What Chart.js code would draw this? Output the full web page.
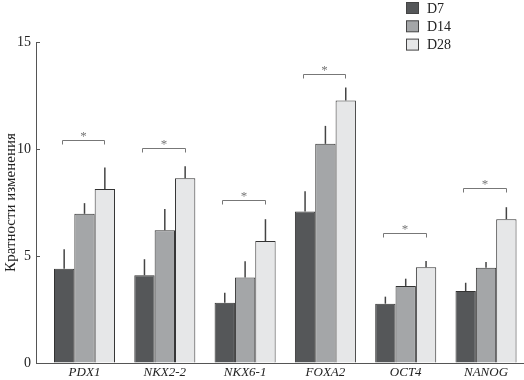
<!DOCTYPE html>
<html>
<head>
<meta charset="utf-8">
<script src="https://cdn.jsdelivr.net/npm/chart.js@4"></script>
<style>
  html, body { margin: 0; padding: 0; background: #fff; }
  #wrap { width: 524px; height: 380px; }
</style>
</head>
<body>
<div id="wrap"><canvas id="fold"></canvas></div>
<script>
const genes = ["PDX1", "NKX2-2", "NKX6-1", "FOXA2", "OCT4", "NANOG"];
const seriesNames = ["D7", "D14", "D28"];
const d7 = [4.41, 4.1, 2.81, 7.08, 2.77, 3.36];
const d14 = [6.97, 6.2, 4.0, 10.24, 3.6, 4.45];
const d28 = [8.13, 8.63, 5.7, 12.27, 4.47, 6.72];
const err7 = [0.9, 0.75, 0.47, 0.94, 0.33, 0.39];
const err14 = [0.5, 1.0, 0.75, 0.84, 0.34, 0.27];
const err28 = [1.0, 0.56, 1.02, 0.6, 0.3, 0.56];
const bracketLevel = [10.44, 10.05, 7.63, 13.49, 6.08, 8.16];
const yTicks = [0, 5, 10, 15];

const serif = "'Liberation Serif', 'DejaVu Serif', serif";
const fills = ["#555759", "#a4a6a8", "#e6e7e8"];
const errs = [err7, err14, err28];

// error bars, brackets with stars, inward y ticks, legend
const extras = {
  id: "extras",
  afterDatasetsDraw(chart) {
    const c = chart.ctx;
    const ys = chart.scales.y;
    const area = chart.chartArea;
    c.save();

    // error bars (up only, no caps)
    c.strokeStyle = "#444";
    c.lineWidth = 1.5;
    chart.data.datasets.forEach((ds, di) => {
      chart.getDatasetMeta(di).data.forEach((bar, i) => {
        const top = ys.getPixelForValue(ds.data[i].y + errs[di][i]);
        c.beginPath();
        c.moveTo(bar.x, bar.y);
        c.lineTo(bar.x, top);
        c.stroke();
      });
    });

    // significance brackets
    const first = chart.getDatasetMeta(0).data;
    const last = chart.getDatasetMeta(2).data;
    c.strokeStyle = "#777";
    c.fillStyle = "#777";
    c.lineWidth = 1;
    c.font = "13px " + serif;
    c.textAlign = "center";
    c.textBaseline = "alphabetic";
    bracketLevel.forEach((lv, i) => {
      const x1 = Math.round(first[i].x - 2.5) + 0.5;
      const x2 = Math.round(last[i].x - 0.5) + 0.5;
      const y = Math.round(ys.getPixelForValue(lv)) + 0.5;
      c.beginPath();
      c.moveTo(x1, y + 4);
      c.lineTo(x1, y);
      c.lineTo(x2, y);
      c.lineTo(x2, y + 4);
      c.stroke();
      c.fillText("*", (x1 + x2) / 2, y - 1);
    });

    // inward tick marks on the y axis
    c.strokeStyle = "#555";
    yTicks.forEach(v => {
      const y = Math.round(ys.getPixelForValue(v)) + 0.5;
      c.beginPath();
      c.moveTo(area.left, y);
      c.lineTo(area.left + 4, y);
      c.stroke();
    });

    // legend, top right, stacked
    c.font = "14px " + serif;
    c.textAlign = "left";
    c.textBaseline = "middle";
    seriesNames.forEach((name, i) => {
      const cy = 8 + i * 18.3;
      c.fillStyle = fills[i];
      c.fillRect(406.5, cy - 5.5, 12, 11);
      c.strokeStyle = "#444";
      c.strokeRect(406.5, cy - 5.5, 12, 11);
      c.fillStyle = "#222";
      c.fillText(name, 427, cy + 1);
    });
    c.restore();
  }
};

const ctx = document.getElementById("fold");
new Chart(ctx, {
  type: "bar",
  data: {
    datasets: [
      { label: seriesNames[0], data: d7.map((v, i) => ({ x: i, y: v })), backgroundColor: fills[0] },
      { label: seriesNames[1], data: d14.map((v, i) => ({ x: i, y: v })), backgroundColor: fills[1] },
      { label: seriesNames[2], data: d28.map((v, i) => ({ x: i, y: v })), backgroundColor: fills[2] },
    ],
  },
  options: {
    responsive: true,
    maintainAspectRatio: false,
    animation: false,
    layout: { padding: { top: 42, right: 0, bottom: 0, left: 0 } },
    datasets: {
      bar: {
        borderColor: "#333",
        borderWidth: 1,
        categoryPercentage: 0.76,
        barPercentage: 1.0,
      },
    },
    plugins: {
      legend: { display: false },
      tooltip: { enabled: false },
    },
    scales: {
      x: {
        type: "linear",
        offset: false,
        min: -0.604,
        max: 5.473,
        grid: { display: false, drawTicks: false },
        border: { display: true, color: "#555", width: 1 },
        afterBuildTicks: (scale) => {
          scale.ticks = genes.map((g, i) => ({ value: i }));
        },
        afterFit: (scale) => { scale.height = 17; },
        ticks: {
          autoSkip: false,
          maxRotation: 0,
          padding: 2,
          color: "#222",
          font: { family: serif, size: 13, style: "italic" },
          callback: (v) => genes[v],
        },
      },
      y: {
        min: 0,
        max: 15,
        afterBuildTicks: (scale) => {
          scale.ticks = yTicks.map(v => ({ value: v }));
        },
        afterFit: (scale) => { scale.width = 36; },
        grid: { drawOnChartArea: false, drawTicks: false },
        border: { display: true, color: "#555", width: 1 },
        ticks: {
          padding: 5,
          color: "#222",
          font: { family: serif, size: 14 },
        },
        title: {
          display: true,
          text: "Кратности изменения",
          color: "#222",
          padding: { top: 2, bottom: 2 },
          font: { family: serif, size: 15 },
        },
      },
    },
  },
  plugins: [extras],
});
</script>
</body>
</html>
